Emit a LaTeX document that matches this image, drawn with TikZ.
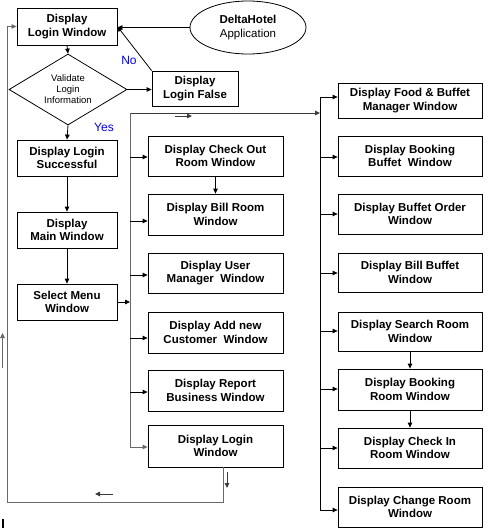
\documentclass[tikz,border=0pt]{standalone}
\usepackage{fontspec}
\setmainfont{Liberation Sans}
\usetikzlibrary{shapes.geometric,arrows.meta}
\definecolor{lgray}{RGB}{105,105,105}
\definecolor{dgray}{RGB}{60,60,60}
\definecolor{lblblue}{RGB}{0,0,230}
\begin{document}
\begin{tikzpicture}[x=1pt,y=-1pt,
  box/.style={draw=black,line width=0.8pt,align=center,inner sep=0pt,
    font=\fontsize{11.5}{13.5}\selectfont\bfseries},
  lbox/.style={box,minimum width=100pt},
  mbox/.style={box,minimum width=135pt},
  rbox/.style={box,minimum width=144pt},
  dia/.style={draw=black,line width=0.8pt,diamond,aspect=1.66,inner sep=0pt,
    minimum width=118pt,minimum height=71pt,align=center,
    font=\fontsize{9.5}{11}\selectfont},
  app/.style={draw=black,line width=0.8pt,ellipse,inner sep=0pt,
    minimum width=116pt,minimum height=53pt,align=center,
    font=\fontsize{11.5}{14}\selectfont},
  lbl/.style={text=lblblue,inner sep=0pt,font=\fontsize{12}{14}\selectfont},
  arr/.style={-{Triangle[length=5pt,width=4.5pt]},line width=0.8pt},
  con/.style={line width=0.8pt},
  gline/.style={draw=lgray,line width=1pt},
  dline/.style={draw=dgray,line width=1pt}]
\fill[white] (0,0) rectangle (488,530);
\useasboundingbox (0,0) rectangle (488,530);

% left column
\node[lbox,minimum height=37pt] (lw) at (67,26.5) {Display\\Login Window};
\node[dia] (val) at (68,89.5) {Validate\\Login\\Information};
\node[lbox,minimum height=36pt] (ls) at (67,158) {Display Login\\Successful};
\node[lbox,minimum height=36pt] (mw) at (67,230) {Display\\Main Window};
\node[lbox,minimum height=36pt] (sm) at (67,302) {Select Menu\\Window};
\node[box,minimum width=86pt,minimum height=35pt] (lf) at (195,88.5) {Display\\Login False};
\node[app] (ap) at (248,27.5) {\textbf{DeltaHotel}\\Application};
\node[lbl] (no) at (129,60) {No};
\node[lbl] (yes) at (104,127) {Yes};

% middle column
\node[mbox,minimum height=40pt] (co) at (215.5,156) {Display Check Out\\Room Window};
\node[mbox,minimum height=41pt] (br) at (215.5,214.5) {Display Bill Room\\Window};
\node[mbox,minimum height=40pt] (um) at (215.5,273) {Display User\\Manager\ \ Window};
\node[mbox,minimum height=41pt] (ac) at (215.5,332.5) {Display Add new\\Customer\ \ Window};
\node[mbox,minimum height=41pt] (rb) at (215.5,390.5) {Display Report\\Business Window};
\node[mbox,minimum height=42pt] (lw2) at (215.5,446) {Display Login\\Window};

% right column
\node[rbox,minimum height=35pt] (fb) at (410,100.5) {Display Food \& Buffet\\Manager Window};
\node[rbox,minimum height=40pt] (bb) at (410,156) {Display Booking\\Buffet\ \ Window};
\node[rbox,minimum height=40pt] (bo) at (410,214) {Display Buffet Order\\Window};
\node[rbox,minimum height=39pt] (bl) at (410,272.5) {Display Bill Buffet\\Window};
\node[rbox,minimum height=39pt] (sr) at (410,331.5) {Display Search Room\\Window};
\node[rbox,minimum height=41pt] (bk) at (410,389.5) {Display Booking\\Room Window};
\node[rbox,minimum height=40pt] (ci) at (410,448) {Display Check In\\Room Window};
\node[rbox,minimum height=40pt] (ch) at (410,507) {Display Change Room\\Window};

% coordinates
\coordinate (m0) at (130,113);
\coordinate (m1) at (130,157);
\coordinate (m2) at (130,221);
\coordinate (m3) at (130,275);
\coordinate (m4) at (130,338);
\coordinate (m5) at (130,392);
\coordinate (m7) at (130,447);
\coordinate (r0) at (320,113);
\coordinate (r1) at (320,97);
\coordinate (r2) at (320,157);
\coordinate (r3) at (320,214);
\coordinate (r4) at (320,273);
\coordinate (r5) at (320,331);
\coordinate (r6) at (320,389);
\coordinate (r7) at (320,448);
\coordinate (r8) at (320,510);
\coordinate (b1) at (223,502);
\coordinate (b2) at (7,502);
\coordinate (b3) at (7,26.5);

% left column connectors
\draw[arr] (lw.south) -- (val.north);
\draw[arr] (val.south) -- (ls.north);
\draw[arr] (ls.south) -- (mw.north);
\draw[arr] (mw.south) -- (sm.north);
\draw[arr] (val.east) -- (val.east -| lf.west);
\draw[arr] (lf.north west) -- (lw.east);
\draw[arr] (ap.west) -- (ap.west -| lw.east);
\draw[arr] (sm.east) -- (sm.east -| m0);

% middle spine
\draw[arr,dline] (m0) -- (r0);
\draw[arr,gline] (m0) -- (m7) -- (m7 -| lw2.west);
\draw[arr] (m1) -- (m1 -| co.west);
\draw[arr] (m2) -- (m2 -| br.west);
\draw[arr] (m3) -- (m3 -| um.west);
\draw[arr] (m4) -- (m4 -| ac.west);
\draw[arr] (m5) -- (m5 -| rb.west);
\draw[arr] (co.south) -- (br.north);

% right spine
\draw[con] (r1) -- (r8);
\draw[arr] (r1) -- (r1 -| fb.west);
\draw[arr] (r2) -- (r2 -| bb.west);
\draw[arr] (r3) -- (r3 -| bo.west);
\draw[arr] (r4) -- (r4 -| bl.west);
\draw[arr] (r5) -- (r5 -| sr.west);
\draw[arr] (r6) -- (r6 -| bk.west);
\draw[arr] (r7) -- (r7 -| ci.west);
\draw[arr] (r8) -- (r8 -| ch.west);
\draw[arr] (sr.south) -- (bk.north);
\draw[arr] (bk.south) -- (ci.north);

% loop back
\draw[arr,gline] (lw2.south -| b1) -- (b1) -- (b2) -- (b3) -- (lw.west);

% small direction arrows
\coordinate (s1a) at (175,116);
\coordinate (s1b) at (192,116);
\draw[arr,dline] (s1a) -- (s1b);
\coordinate (s2a) at (227,472);
\coordinate (s2b) at (227,488);
\draw[arr,dline] (s2a) -- (s2b);
\coordinate (s3a) at (113,494);
\coordinate (s3b) at (95,494);
\draw[arr,dline] (s3a) -- (s3b);
\coordinate (s4a) at (2.5,368);
\coordinate (s4b) at (2.5,333);
\draw[arr,gline] (s4a) -- (s4b);

% mark at bottom left
\coordinate (k1) at (3,519);
\coordinate (k2) at (3,528);
\draw[line width=2pt] (k1) -- (k2);
\end{tikzpicture}
\end{document}
